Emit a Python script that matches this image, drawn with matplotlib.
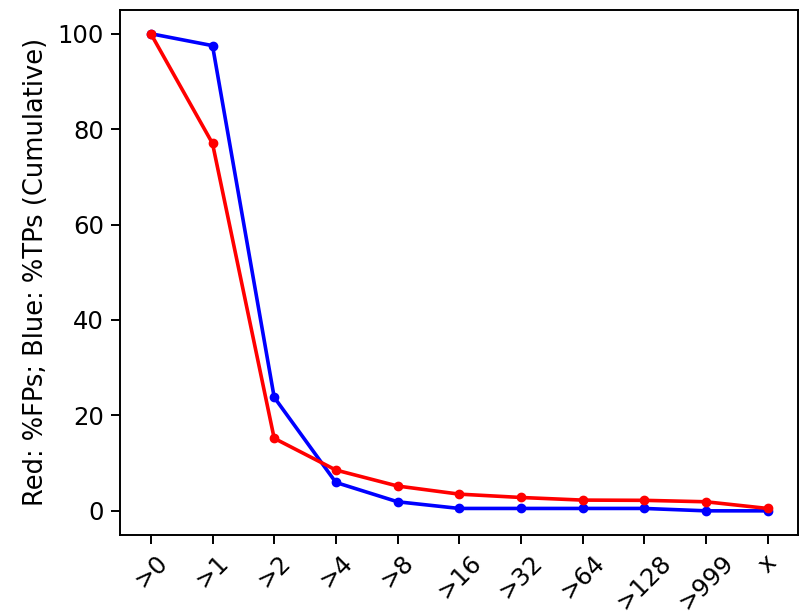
import matplotlib
matplotlib.use("Agg")
import matplotlib.pyplot as plt

labels = [">0", ">1", ">2", ">4", ">8", ">16", ">32", ">64", ">128", ">999", "x"]
tps = [100, 97.5, 23.8, 5.95, 1.9, 0.5, 0.5, 0.5, 0.5, 0.0, 0.0]
fps = [100, 77.0, 15.2, 8.55, 5.2, 3.5, 2.8, 2.25, 2.2, 1.9, 0.5]

fig = plt.figure(figsize=(8, 6.16), dpi=100)
ax = fig.add_axes([0.15, 0.132, 0.848, 0.852])

x = list(range(len(labels)))
ax.plot(x, tps, color="blue", lw=2.6, marker="o", ms=6)
ax.plot(x, fps, color="red", lw=2.6, marker="o", ms=6)

ax.set_xticks(x)
ax.set_xticklabels(labels, rotation=45, fontsize=17.5)
ax.tick_params(axis="y", labelsize=17.5)
ax.tick_params(length=6.5, width=1.4, pad=5)
ax.set_ylabel("Red: %FPs; Blue: %TPs (Cumulative)", fontsize=18.5, labelpad=6)
for s in ax.spines.values():
    s.set_linewidth(1.4)

fig.savefig("out.png", dpi=100)
